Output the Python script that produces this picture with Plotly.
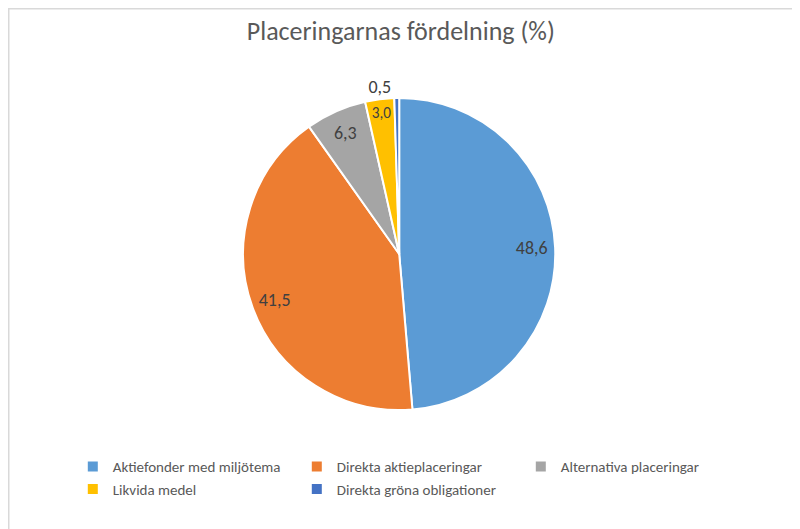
import plotly.graph_objects as go

# data
categories = ["Aktiefonder med miljötema", "Direkta aktieplaceringar",
              "Alternativa placeringar", "Likvida medel",
              "Direkta gröna obligationer"]
shares = [48.6, 41.5, 6.3, 3.0, 0.5]
colors = ["#5B9BD5", "#ED7D31", "#A5A5A5", "#FFC000", "#4472C4"]

FONT = "Carlito, Liberation Sans Narrow, Open Sans, sans-serif"
DOMAIN = dict(x=[0.259, 0.719], y=[0.24, 0.83])
POSITIONS = ["inside", "inside", "inside", "inside", "outside"]

# the pie itself (only the outside label is kept, invisible, so it is sized like the label layer)
fig = go.Figure(go.Pie(
    labels=categories,
    values=shares,
    sort=False,
    direction="clockwise",
    rotation=0,
    marker=dict(colors=colors, line=dict(color="white", width=2)),
    texttemplate="%{value:.1f}",
    textposition=["none", "none", "none", "none", "outside"],
    textfont=dict(family=FONT, size=18, color="rgba(0,0,0,0)"),
    hoverinfo="label+value",
    domain=DOMAIN,
))

# transparent ring on top, puts the labels near the rim like Excel does
fig.add_trace(go.Pie(
    labels=categories,
    values=shares,
    sort=False,
    direction="clockwise",
    rotation=0,
    hole=0.7,
    marker=dict(colors=["rgba(0,0,0,0)"] * 5, line=dict(width=0)),
    texttemplate="%{value:.1f}",
    textposition=POSITIONS,
    insidetextorientation="horizontal",
    textfont=dict(family=FONT, size=18, color="#404040"),
    hoverinfo="skip",
    showlegend=False,
    domain=DOMAIN,
))

fig.update_layout(
    width=800, height=529,
    separators=", ",
    paper_bgcolor="white",
    margin=dict(l=0, r=0, t=0, b=0),
    font=dict(family=FONT, color="#595959"),
    title=dict(text="Placeringarnas fördelning (%)", x=0.491, y=0.956,
               xanchor="center", yanchor="middle",
               font=dict(size=26, color="#595959")),
    legend=dict(orientation="h", x=0.081, y=0.112, xanchor="left", yanchor="middle",
                entrywidth=179, entrywidthmode="pixels",
                font=dict(size=15, color="#595959")),
    shapes=[dict(type="rect", xref="paper", yref="paper", x0=0, y0=0, x1=1, y1=1,
                 line=dict(color="#D9D9D9", width=3))],
)

fig.write_html("out.html")
